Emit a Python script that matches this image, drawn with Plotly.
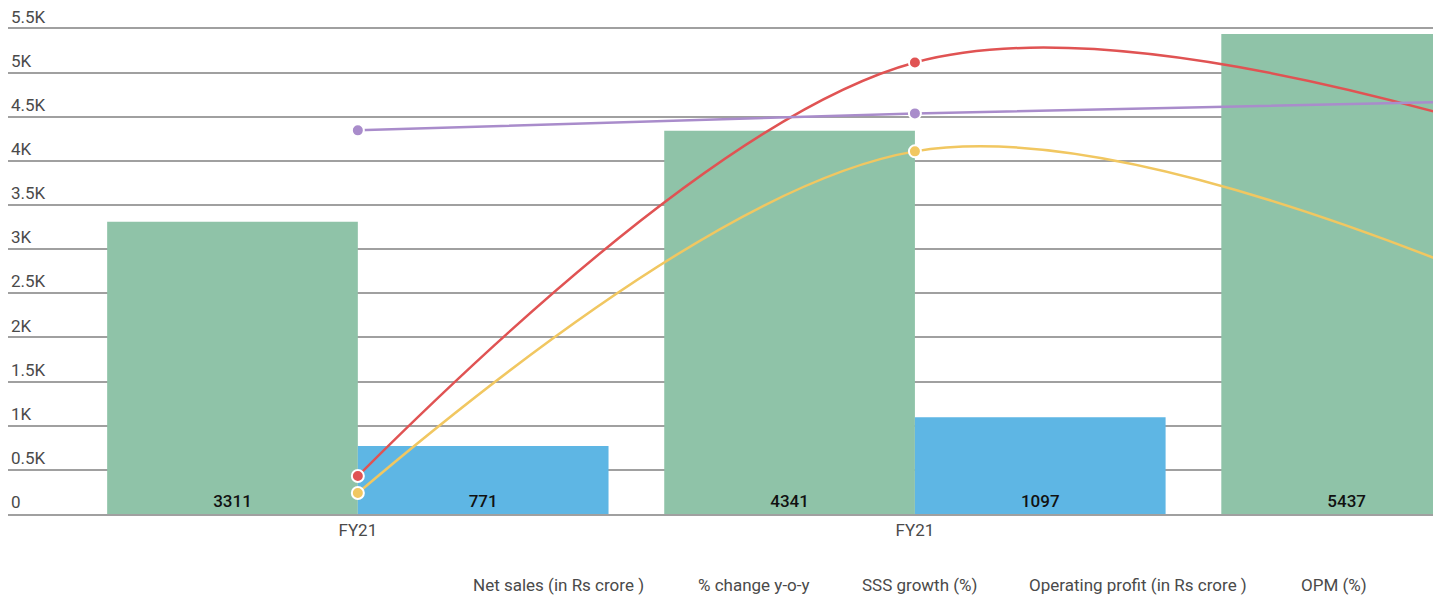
import plotly.graph_objects as go

categories = ["FY21", "FY21", "FY22"]
net_sales = [3311, 4341, 5437]
operating_profit = [771, 1097, 1390]
pct_change_yoy = [430, 5115, 4440]
sss_growth = [238, 4108, 2730]
opm = [4346, 4538, 4673]

y_ticks = [0, 500, 1000, 1500, 2000, 2500, 3000, 3500, 4000, 4500, 5000, 5500]
y_tick_labels = ["0", "0.5K", "1K", "1.5K", "2K", "2.5K", "3K", "3.5K", "4K", "4.5K", "5K", "5.5K"]

legend_labels = ["Net sales (in Rs crore )", "% change y-o-y", "SSS growth (%)",
                 "Operating profit (in Rs crore )", "OPM (%)"]

GREEN = "#8FC3A8"
BLUE = "#5EB6E4"
RED = "#E05353"
YELLOW = "#F1C761"
PURPLE = "#A98CCB"
TEXT = "#4A4A4A"
GRID = "#A0A0A0"

x = list(range(len(categories)))
fig = go.Figure()

fig.add_trace(go.Bar(x=x, y=net_sales, name=legend_labels[0], marker=dict(color=GREEN, line=dict(width=0)),
                     text=[str(v) for v in net_sales], textposition="inside", insidetextanchor="start",
                     textfont=dict(family="Roboto", size=17, color="#111111", weight=500), showlegend=False))
fig.add_trace(go.Bar(x=x, y=operating_profit, name=legend_labels[3], marker=dict(color=BLUE, line=dict(width=0)),
                     text=[str(v) for v in operating_profit], textposition="inside", insidetextanchor="start",
                     textfont=dict(family="Roboto", size=17, color="#111111", weight=500), showlegend=False))

for vals, col, nm in [(pct_change_yoy, RED, legend_labels[1]), (sss_growth, YELLOW, legend_labels[2]),
                      (opm, PURPLE, legend_labels[4])]:
    fig.add_trace(go.Scatter(x=x, y=vals, name=nm, mode="lines+markers",
                             line=dict(color=col, width=2.5, shape="spline", smoothing=1),
                             marker=dict(size=12, color=col, line=dict(color="white", width=2)),
                             showlegend=False))

fig.update_layout(
    width=1444, height=601,
    margin=dict(l=8, r=11, t=2, b=87),
    plot_bgcolor="white", paper_bgcolor="white",
    barmode="group", bargap=0.1, bargroupgap=0.0,
    font=dict(family="Roboto", size=17, color=TEXT),
    xaxis=dict(range=[-0.628, 1.93], tickvals=x, ticktext=categories, showgrid=False,
               showline=True, linecolor=GRID, linewidth=2, ticks="",
               tickfont=dict(family="Roboto", size=17, color=TEXT), zeroline=False),
    yaxis=dict(range=[0, 5800], tickvals=y_ticks, ticktext=y_tick_labels, showgrid=True,
               gridcolor=GRID, gridwidth=2, zeroline=False, ticklabelposition="inside top",
               tickfont=dict(family="Roboto", size=17, color=TEXT), showline=False),
)

legend_x_px = [471, 696, 860, 1027, 1299]
for lbl, px in zip(legend_labels, legend_x_px):
    fig.add_annotation(text=lbl, xref="paper", yref="paper", x=(px - 8) / 1425, y=-0.139,
                       xanchor="left", yanchor="middle", showarrow=False,
                       font=dict(family="Roboto", size=17, color=TEXT))

fig.write_html("out.html")
